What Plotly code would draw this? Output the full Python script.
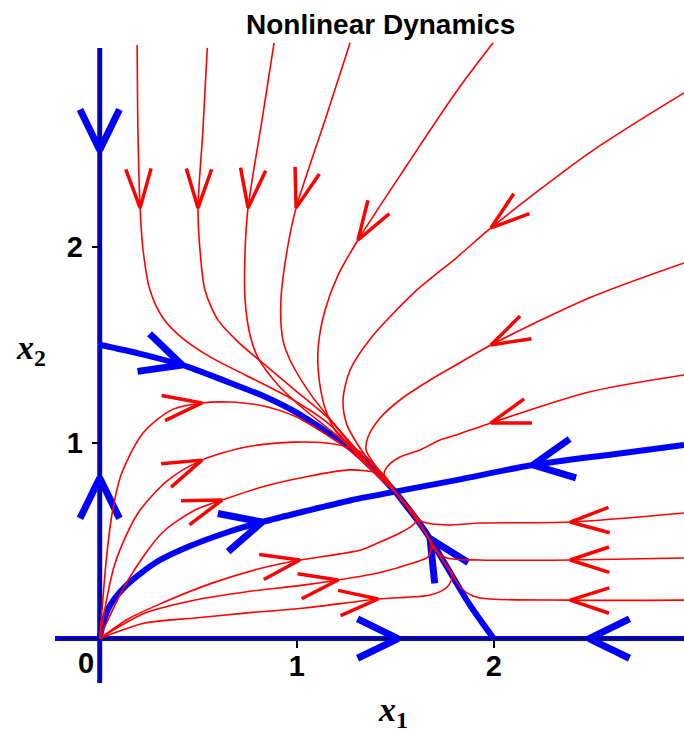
import math
import plotly.graph_objects as go

# ---------------------------------------------------------------
# Phase-plane data (x1, x2); every curve is listed along the flow
# ---------------------------------------------------------------

# red trajectories entering from the top edge
top1_x1 = [0.190, 0.194, 0.205, 0.220, 0.255, 0.321, 0.418, 0.560, 0.738, 0.966, 1.169, 1.296, 1.423, 1.5]
top1_x2 = [3.031, 2.597, 2.199, 1.984, 1.780, 1.637, 1.535, 1.438, 1.346, 1.228, 1.091, 0.953, 0.820, 0.75]
top2_x1 = [0.546, 0.524, 0.499, 0.509, 0.534, 0.600, 0.702, 0.839, 0.991, 1.159, 1.296, 1.423, 1.5]
top2_x2 = [3.016, 2.597, 2.199, 1.984, 1.780, 1.627, 1.515, 1.397, 1.269, 1.126, 0.963, 0.820, 0.75]
top3_x1 = [0.885, 0.824, 0.753, 0.738, 0.738, 0.763, 0.804, 0.905, 1.042, 1.169, 1.296, 1.423, 1.5]
top3_x2 = [3.042, 2.648, 2.199, 1.984, 1.729, 1.550, 1.433, 1.295, 1.167, 1.065, 0.953, 0.820, 0.75]
top4_x1 = [1.271, 1.144, 0.997, 0.956, 0.920, 0.930, 0.971, 1.073, 1.194, 1.306, 1.423, 1.5]
top4_x2 = [3.042, 2.648, 2.199, 2.010, 1.729, 1.525, 1.412, 1.244, 1.091, 0.963, 0.820, 0.75]
top5_x1 = [1.997, 1.809, 1.560, 1.311, 1.210, 1.144, 1.110, 1.110, 1.139, 1.194, 1.311, 1.423, 1.5]
top5_x2 = [3.042, 2.791, 2.418, 2.035, 1.856, 1.678, 1.499, 1.361, 1.193, 1.065, 0.937, 0.820, 0.75]

# red trajectories entering from the right edge (upper)
right1_x1 = [2.966, 2.484, 1.986, 1.809, 1.600, 1.377, 1.271, 1.235, 1.255, 1.321, 1.423, 1.5]
right1_x2 = [2.786, 2.479, 2.097, 1.943, 1.770, 1.535, 1.371, 1.218, 1.091, 0.973, 0.835, 0.75]
right2_x1 = [2.966, 2.484, 1.986, 1.809, 1.677, 1.524, 1.423, 1.362, 1.352, 1.397, 1.463, 1.5]
right2_x2 = [1.918, 1.739, 1.499, 1.397, 1.320, 1.218, 1.126, 1.029, 0.963, 0.886, 0.810, 0.75]
right3_x1 = [2.966, 2.484, 1.986, 1.809, 1.727, 1.626, 1.524, 1.463, 1.443, 1.463, 1.5]
right3_x2 = [1.346, 1.259, 1.101, 1.039, 1.014, 0.963, 0.927, 0.881, 0.840, 0.799, 0.75]

# red trajectories entering from the right edge (lower)
lowr1_x1 = [2.966, 2.388, 1.930, 1.763, 1.641, 1.611, 1.560, 1.5]
lowr1_x2 = [0.641, 0.595, 0.590, 0.580, 0.595, 0.615, 0.680, 0.75]
lowr2_x1 = [2.966, 2.388, 1.930, 1.763, 1.692, 1.677, 1.630, 1.5]
lowr2_x2 = [0.411, 0.401, 0.401, 0.411, 0.460, 0.500, 0.575, 0.75]
lowr3_x1 = [2.966, 2.388, 1.930, 1.865, 1.814, 1.789, 1.760, 1.630, 1.5]
lowr3_x2 = [0.196, 0.196, 0.207, 0.232, 0.283, 0.334, 0.370, 0.575, 0.75]

# red trajectories leaving the origin
orig1_x1 = [0.0, 0.012, 0.035, 0.065, 0.110, 0.220, 0.370, 0.519, 0.651, 0.819, 0.991, 1.160, 1.270, 1.420, 1.5]
orig1_x2 = [0.0, 0.150, 0.420, 0.650, 0.840, 1.050, 1.170, 1.203, 1.208, 1.190, 1.135, 1.035, 0.960, 0.825, 0.75]
orig2_x1 = [0.0, 0.078, 0.194, 0.347, 0.519, 0.737, 0.991, 1.180, 1.320, 1.400, 1.460, 1.5]
orig2_x2 = [0.0, 0.385, 0.640, 0.809, 0.911, 0.977, 1.003, 0.995, 0.955, 0.880, 0.800, 0.75]
orig3_x1 = [0.0, 0.025, 0.144, 0.316, 0.484, 0.621, 0.824, 1.042, 1.271, 1.408, 1.448, 1.480, 1.5]
orig3_x2 = [0.0, 0.059, 0.299, 0.539, 0.656, 0.707, 0.774, 0.825, 0.861, 0.845, 0.815, 0.775, 0.75]
orig4_x1 = [0.0, 0.144, 0.316, 0.570, 0.824, 1.016, 1.326, 1.423, 1.524, 1.590, 1.611, 1.560, 1.5]
orig4_x2 = [0.0, 0.100, 0.181, 0.283, 0.360, 0.401, 0.452, 0.493, 0.539, 0.580, 0.615, 0.680, 0.75]
orig5_x1 = [0.0, 0.230, 0.484, 0.738, 1.042, 1.210, 1.413, 1.590, 1.667, 1.682, 1.677, 1.630, 1.5]
orig5_x2 = [0.0, 0.130, 0.197, 0.238, 0.274, 0.299, 0.335, 0.386, 0.417, 0.467, 0.500, 0.575, 0.75]
orig6_x1 = [0.0, 0.230, 0.484, 0.738, 1.042, 1.413, 1.677, 1.763, 1.789, 1.780, 1.760, 1.630, 1.5]
orig6_x2 = [0.0, 0.079, 0.105, 0.130, 0.156, 0.202, 0.222, 0.262, 0.313, 0.340, 0.370, 0.575, 0.75]

# blue special trajectories into the equilibrium (1.5, 0.75)
sepA_x1 = [0.0, 0.200, 0.418, 0.650, 0.820, 1.000, 1.160, 1.270, 1.420, 1.5]
sepA_x2 = [1.5, 1.455, 1.397, 1.310, 1.243, 1.153, 1.050, 0.975, 0.835, 0.75]
sepB_x1 = [2.0, 1.880, 1.760, 1.677, 1.630, 1.5]
sepB_x2 = [0.0, 0.170, 0.370, 0.510, 0.580, 0.75]
sepC_x1 = [0.0, 0.015, 0.050, 0.139, 0.291, 0.458, 0.652, 0.824, 1.042, 1.271, 1.5]
sepC_x2 = [0.0, 0.070, 0.165, 0.275, 0.392, 0.472, 0.544, 0.595, 0.650, 0.705, 0.75]
sepD_x1 = [2.966, 2.600, 2.199, 1.810, 1.5]
sepD_x2 = [0.988, 0.940, 0.886, 0.809, 0.75]

# invariant axes (flow toward (0, 1.5) and (2, 0))
ax2_top_x1 = [0.0, 0.0, 0.0]
ax2_top_x2 = [3.016, 2.495, 1.5]
ax2_bot_x1 = [0.0, 0.0, 0.0]
ax2_bot_x2 = [-0.227, 0.820, 1.5]
ax1_left_x1 = [-0.227, 1.514, 2.0]
ax1_left_x2 = [0.0, 0.0, 0.0]
ax1_right_x1 = [2.966, 2.484, 2.0]
ax1_right_x2 = [0.0, 0.0, 0.0]

# tick labels
x1_ticks = [1, 2]
x2_ticks = [1, 2]

# (curve, index of the arrow tip along it)
red_curves = [
    (top1_x1, top1_x2, 2), (top2_x1, top2_x2, 2), (top3_x1, top3_x2, 2),
    (top4_x1, top4_x2, 2), (top5_x1, top5_x2, 3),
    (right1_x1, right1_x2, 2), (right2_x1, right2_x2, 2), (right3_x1, right3_x2, 2),
    (lowr1_x1, lowr1_x2, 1), (lowr2_x1, lowr2_x2, 1), (lowr3_x1, lowr3_x2, 1),
    (orig1_x1, orig1_x2, 7), (orig2_x1, orig2_x2, 4), (orig3_x1, orig3_x2, 5),
    (orig4_x1, orig4_x2, 5), (orig5_x1, orig5_x2, 5), (orig6_x1, orig6_x2, 5),
]
blue_curves = [
    (sepA_x1, sepA_x2, 2), (sepB_x1, sepB_x2, 3),
    (sepC_x1, sepC_x2, 7), (sepD_x1, sepD_x2, 2),
]
blue_axes = [
    (ax2_top_x1, ax2_top_x2, 1), (ax2_bot_x1, ax2_bot_x2, 1),
    (ax1_left_x1, ax1_left_x2, 1), (ax1_right_x1, ax1_right_x2, 1),
]

# ---------------------------------------------------------------
# Layout geometry
# ---------------------------------------------------------------
W, H = 684, 734
M_L, M_R, M_T, M_B = 55, 0, 42, 51
X_MIN, X_MAX = -0.227, 2.966
Y_MIN, Y_MAX = -0.227, 3.046
SX = (W - M_L - M_R) / (X_MAX - X_MIN)   # pixels per unit of x1
SY = (H - M_T - M_B) / (Y_MAX - Y_MIN)   # pixels per unit of x2

RED = "#ff0000"
BLUE = "#0000ff"


def chevron(xs, ys, i, length_px, half_deg):
    """Open V arrowhead with its tip on vertex i, pointing along the flow."""
    j0, j1 = max(i - 1, 0), min(i + 1, len(xs) - 1)
    ux = (xs[j1] - xs[j0]) * SX
    uy = (ys[j1] - ys[j0]) * SY
    n = math.hypot(ux, uy)
    bx, by = -ux / n, -uy / n
    px, py = [], []
    for s in (1, -1):
        a = math.radians(half_deg) * s
        rx = bx * math.cos(a) - by * math.sin(a)
        ry = bx * math.sin(a) + by * math.cos(a)
        px.append(xs[i] + length_px * rx / SX)
        py.append(ys[i] + length_px * ry / SY)
    return [px[0], xs[i], px[1], None], [py[0], ys[i], py[1], None]


def arrow_trace(curves, color, width, length_px, half_deg):
    ax, ay = [], []
    for xs, ys, i in curves:
        cx, cy = chevron(xs, ys, i, length_px, half_deg)
        ax += cx
        ay += cy
    return go.Scatter(x=ax, y=ay, mode="lines", hoverinfo="skip",
                      line=dict(color=color, width=width))


fig = go.Figure()

# blue invariant axes
for xs, ys, _ in blue_axes:
    fig.add_trace(go.Scatter(x=xs, y=ys, mode="lines", hoverinfo="skip",
                             line=dict(color=BLUE, width=5)))
# black coordinate axes on top of the blue ones
fig.add_trace(go.Scatter(x=[X_MIN + 0.025, X_MAX], y=[0, 0], mode="lines", hoverinfo="skip",
                         line=dict(color="black", width=1.5)))
fig.add_trace(go.Scatter(x=[0, 0], y=[Y_MIN, 3.016], mode="lines", hoverinfo="skip",
                         line=dict(color="black", width=1.5)))

# blue separatrix-like trajectories
for xs, ys, _ in blue_curves:
    fig.add_trace(go.Scatter(x=xs, y=ys, mode="lines", hoverinfo="skip",
                             line=dict(color=BLUE, width=6, shape="spline", smoothing=0.8)))
fig.add_trace(arrow_trace(blue_curves + blue_axes, BLUE, 7, 45, 26))

# red trajectories
for xs, ys, _ in red_curves:
    fig.add_trace(go.Scatter(x=xs, y=ys, mode="lines", hoverinfo="skip",
                             line=dict(color=RED, width=1.6, shape="spline", smoothing=0.8)))
fig.add_trace(arrow_trace(red_curves, RED, 3.5, 41, 18))

tick_font = dict(family="Liberation Sans, Arial, sans-serif", size=29, color="black")

fig.update_layout(
    width=W, height=H,
    margin=dict(l=M_L, r=M_R, t=M_T, b=M_B),
    paper_bgcolor="white", plot_bgcolor="white",
    showlegend=False,
    xaxis=dict(range=[X_MIN, X_MAX], anchor="free",
               position=(0 - Y_MIN) / (Y_MAX - Y_MIN),
               tickvals=x1_ticks, ticktext=["<b>%d</b>" % v for v in x1_ticks],
               ticks="outside", ticklen=8, tickwidth=1.5, tickcolor="black",
               ticklabelstandoff=-6,
               showline=False, showgrid=False, zeroline=False,
               tickfont=tick_font, fixedrange=True),
    yaxis=dict(range=[Y_MIN, Y_MAX], anchor="free",
               position=(0 - X_MIN) / (X_MAX - X_MIN),
               tickvals=x2_ticks, ticktext=["<b>%d</b>" % v for v in x2_ticks],
               ticks="outside", ticklen=8, tickwidth=1.5, tickcolor="black",
               ticklabelstandoff=3,
               showline=False, showgrid=False, zeroline=False,
               tickfont=tick_font, fixedrange=True),
)


def paper_x(px):
    return (px - M_L) / (W - M_L - M_R)


def paper_y(py):
    return (H - M_B - py) / (H - M_T - M_B)


serif = dict(family="Liberation Serif, Times New Roman, serif", size=34, color="black")
fig.add_annotation(text="<b>Nonlinear Dynamics</b>", xref="paper", yref="paper",
                   x=paper_x(380), y=paper_y(25), xanchor="center", yanchor="middle",
                   showarrow=False,
                   font=dict(family="Liberation Sans, Arial, sans-serif", size=28, color="black"))
fig.add_annotation(text="<b><i>x</i><sub>1</sub></b>", xref="paper", yref="paper",
                   x=paper_x(393), y=paper_y(712), xanchor="center", yanchor="middle",
                   showarrow=False, font=serif)
fig.add_annotation(text="<b><i>x</i><sub>2</sub></b>", xref="paper", yref="paper",
                   x=paper_x(31), y=paper_y(350), xanchor="center", yanchor="middle",
                   showarrow=False, font=serif)
fig.add_annotation(text="<b>0</b>", xref="paper", yref="paper",
                   x=paper_x(86), y=paper_y(663), xanchor="center", yanchor="middle",
                   showarrow=False, font=tick_font)

fig.write_html("out.html")
